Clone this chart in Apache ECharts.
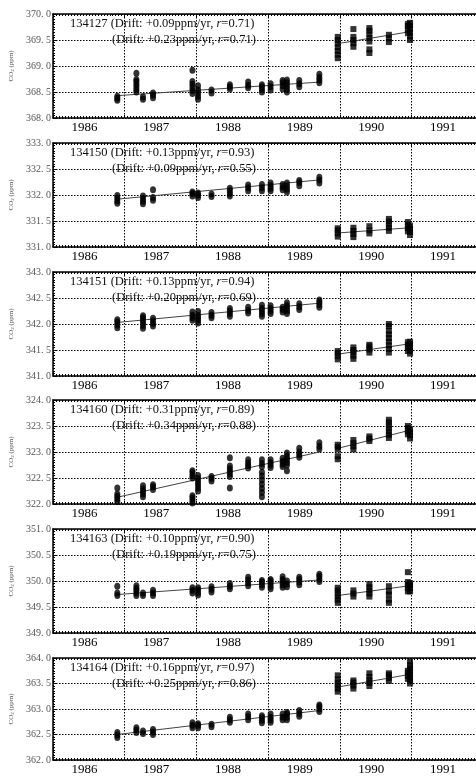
<!DOCTYPE html>
<html><head><meta charset="utf-8">
<script src="https://cdn.jsdelivr.net/npm/echarts@6/dist/echarts.min.js"></script>
<style>html,body{margin:0;padding:0;background:#fff}#c{width:476px;height:776px}</style>
</head><body><div id="c"></div><script>
const stations = ['134127', '134150', '134151', '134160', '134163', '134164'];
const driftA = ['+0.09', '+0.13', '+0.13', '+0.31', '+0.10', '+0.16'];
const rA = ['0.71', '0.93', '0.94', '0.89', '0.90', '0.97'];
const driftB = ['+0.23', '+0.09', '+0.20', '+0.34', '+0.19', '+0.25'];
const rB = ['0.71', '0.55', '0.69', '0.88', '0.75', '0.86'];
const yMins = [368.0, 331.0, 341.0, 322.0, 349.0, 362.0];
const yearLabels = [1986, 1987, 1988, 1989, 1990, 1991];

const circleDates = [1986.457, 1986.723, 1986.815, 1986.955, 1987.505, 1987.583, 1987.771, 1988.027,
  1988.282, 1988.474, 1988.595, 1988.763, 1988.823, 1988.995, 1989.275];
const squareDates = [1989.532, 1989.75, 1989.973, 1990.245, 1990.51, 1990.54];

// values per date (circles: before the break, squares: after)
const circles134127 = [
  [368.34, 368.38, 368.42], [368.5, 368.55, 368.6, 368.65, 368.7, 368.74, 368.86], [368.36, 368.41],
  [368.39, 368.44, 368.48], [368.47, 368.53, 368.59, 368.65, 368.7, 368.92], [368.36, 368.42, 368.48, 368.54, 368.62],
  [368.48, 368.54], [368.56, 368.6, 368.64], [368.58, 368.63, 368.69], [368.5, 368.55, 368.6, 368.64],
  [368.54, 368.6, 368.66], [368.56, 368.62, 368.68, 368.72], [368.5, 368.56, 368.62, 368.68, 368.73],
  [368.6, 368.66, 368.72], [368.68, 368.73, 368.78, 368.84]];
const squares134127 = [
  [369.15, 369.22, 369.29, 369.36, 369.43, 369.5, 369.56], [369.37, 369.44, 369.5, 369.56, 369.71],
  [369.25, 369.32, 369.47, 369.54, 369.61, 369.68, 369.73], [369.46, 369.53, 369.6],
  [369.63, 369.7, 369.77, 369.81], [369.5, 369.57, 369.64, 369.71, 369.78, 369.83]];

const circles134150 = [
  [331.84, 331.89, 331.94, 331.99], [], [331.83, 331.88, 331.93, 331.98], [331.9, 331.95, 332.1],
  [331.98, 332.03, 332.06], [331.95, 332.0, 332.04], [331.97, 332.02], [331.98, 332.03, 332.08, 332.13],
  [332.08, 332.14, 332.19], [332.08, 332.14, 332.2], [332.08, 332.13, 332.18, 332.23], [332.1, 332.15, 332.2],
  [332.06, 332.11, 332.17, 332.23], [332.18, 332.24, 332.28], [332.23, 332.29, 332.34]];
const squares134150 = [
  [331.2, 331.26, 331.32, 331.36], [331.19, 331.25, 331.31, 331.37], [331.26, 331.32, 331.4],
  [331.31, 331.37, 331.43, 331.49, 331.54], [331.3, 331.36, 331.42, 331.48], [331.23, 331.29, 331.35, 331.41]];

const circles134151 = [
  [341.93, 341.98, 342.04, 342.08], [], [341.92, 341.97, 342.02, 342.07, 342.12, 342.16],
  [341.96, 342.01, 342.06, 342.11], [342.07, 342.12, 342.17, 342.23], [342.02, 342.07, 342.12, 342.17, 342.24],
  [342.12, 342.17, 342.22], [342.15, 342.2, 342.25, 342.3], [342.21, 342.26, 342.32],
  [342.15, 342.2, 342.25, 342.3, 342.36], [342.2, 342.25, 342.3, 342.35], [342.23, 342.28, 342.32],
  [342.2, 342.25, 342.3, 342.35, 342.41], [342.28, 342.33, 342.39], [342.32, 342.37, 342.42, 342.46]];
const squares134151 = [
  [341.32, 341.38, 341.44, 341.48], [341.33, 341.39, 341.45, 341.5, 341.55], [341.45, 341.51, 341.57, 341.6],
  [341.45, 341.52, 341.59, 341.66, 341.73, 341.8, 341.87, 341.96, 342.0], [341.48, 341.54, 341.6, 341.65],
  [341.43, 341.49, 341.55, 341.61, 341.66]];

const circles134160 = [
  [322.05, 322.1, 322.15, 322.19, 322.31], [], [322.14, 322.19, 322.24, 322.29, 322.35], [322.28, 322.33, 322.37],
  [322.02, 322.07, 322.12, 322.16, 322.5, 322.55, 322.6, 322.64], [322.25, 322.31, 322.37, 322.43, 322.49, 322.55],
  [322.44, 322.49, 322.53], [322.31, 322.53, 322.58, 322.63, 322.68, 322.73, 322.89], [322.69, 322.74, 322.79, 322.85],
  [322.14, 322.22, 322.3, 322.38, 322.46, 322.54, 322.61, 322.72, 322.78, 322.85], [322.7, 322.75, 322.8, 322.85],
  [322.72, 322.77, 322.82, 322.88], [322.64, 322.75, 322.8, 322.86, 322.92, 322.98], [322.9, 322.95, 323.0, 323.07],
  [323.06, 323.11, 323.18]];
const squares134160 = [
  [322.86, 322.92, 323.05, 323.1, 323.14], [323.05, 323.11, 323.17, 323.23], [323.21, 323.26, 323.3],
  [323.27, 323.33, 323.39, 323.45, 323.51, 323.57, 323.62], [323.34, 323.4, 323.46, 323.5], [323.26, 323.32, 323.38, 323.44]];

const circles134163 = [
  [349.72, 349.77, 349.9], [349.72, 349.77, 349.82, 349.86, 349.91], [349.72, 349.77], [349.72, 349.77, 349.82],
  [349.77, 349.82, 349.87], [349.73, 349.78, 349.83, 349.87], [349.79, 349.84, 349.89], [349.85, 349.9, 349.95],
  [349.91, 349.96, 350.02, 350.07], [349.88, 349.93, 349.98, 350.01], [349.85, 349.9, 349.95, 350.0, 350.03],
  [349.88, 349.93, 349.98, 350.03, 350.08], [349.89, 349.94, 350.0], [349.93, 349.98, 350.03, 350.07],
  [349.99, 350.04, 350.09, 350.13]];
const squares134163 = [
  [349.58, 349.64, 349.7, 349.76, 349.82, 349.87], [349.7, 349.76, 349.82], [349.7, 349.76, 349.82, 349.88, 349.94],
  [349.58, 349.64, 349.74, 349.8, 349.9], [349.8, 349.86, 349.92, 349.98, 350.17], [349.8, 349.86, 349.92, 349.96]];

const circles134164 = [
  [362.44, 362.49, 362.54], [362.54, 362.59, 362.63], [362.52, 362.57], [362.5, 362.55, 362.6],
  [362.63, 362.68, 362.73], [362.63, 362.68, 362.71], [362.65, 362.7], [362.74, 362.79, 362.84],
  [362.79, 362.85, 362.9], [362.73, 362.78, 362.83, 362.87], [362.74, 362.79, 362.84, 362.9],
  [362.79, 362.84, 362.9], [362.79, 362.84, 362.9, 362.93], [362.86, 362.91, 362.97], [362.95, 363.0, 363.05, 363.08]];
const squares134164 = [
  [363.34, 363.4, 363.46, 363.52, 363.58, 363.66], [363.4, 363.46, 363.52, 363.56], [363.45, 363.51, 363.57, 363.63, 363.7],
  [363.55, 363.61, 363.67, 363.7], [363.59, 363.65, 363.71, 363.75], [363.5, 363.56, 363.62, 363.68, 363.74, 363.8, 363.86, 363.93]];

// regression line end values [start, end] for circle and square periods
const fitCircleX = [1986.457, 1989.275];
const fitSquareX = [1989.532, 1990.54];
const fitCircleY = [[368.43, 368.69], [331.92, 332.29], [342.03, 342.4], [322.13, 323.0], [349.74, 350.02], [362.5, 362.97]];
const fitSquareY = [[369.43, 369.66], [331.27, 331.37], [341.42, 341.62], [323.07, 323.42], [349.72, 349.91], [363.43, 363.68]];

const circleSets = [circles134127, circles134150, circles134151, circles134160, circles134163, circles134164];
const squareSets = [squares134127, squares134150, squares134151, squares134160, squares134163, squares134164];

const tops = [14, 143, 272, 400, 529, 658];
const panelH = 104;
const xMin = 1985.56, xMax = 1991.46;
const serif = 'Liberation Serif';

function flatten(dates, sets) {
  const out = [];
  sets.forEach((vals, i) => vals.forEach(v => out.push([dates[i], v])));
  return out;
}

const grid = [], xAxis = [], yAxis = [], series = [], graphic = [];
tops.forEach((t, i) => {
  grid.push({left: 53, right: 0, top: t, height: panelH});
  xAxis.push({
    type: 'value', gridIndex: i, min: xMin, max: xMax, interval: 1, position: 'bottom',
    axisLine: {show: true, lineStyle: {color: '#000', width: 1.5}},
    axisTick: {show: true, inside: true, length: 3, lineStyle: {color: '#000'}},
    minorTick: {show: true, splitNumber: 24, length: 2, lineStyle: {color: '#000'}},
    splitLine: {show: true, lineStyle: {color: '#000', type: [1.5, 1.5], width: 1}},
    axisLabel: {customValues: yearLabels, formatter: v => String(Math.round(v)), color: '#000',
      fontFamily: serif, fontSize: 13, margin: 3}
  });
  xAxis.push({
    type: 'value', gridIndex: i, min: xMin, max: xMax, interval: 1, position: 'top',
    axisLine: {show: true, lineStyle: {color: '#000', width: 1.5}},
    axisTick: {show: true, inside: true, length: 3, lineStyle: {color: '#000'}},
    minorTick: {show: true, splitNumber: 24, length: 2, lineStyle: {color: '#000'}},
    splitLine: {show: false}, axisLabel: {show: false}
  });
  yAxis.push({
    type: 'value', gridIndex: i, min: yMins[i], max: yMins[i] + 2, interval: 0.5,
    name: 'CO{s|2} (ppm)', nameLocation: 'middle', nameGap: 36, nameRotate: 90,
    nameTextStyle: {fontFamily: serif, fontSize: 7, color: '#555', rich: {s: {fontSize: 5, color: '#555', verticalAlign: 'bottom'}}},
    axisLine: {show: true, lineStyle: {color: '#000', width: 1.5}},
    axisTick: {show: true, inside: true, length: 3, lineStyle: {color: '#000'}},
    minorTick: {show: true, splitNumber: 10, length: 2, lineStyle: {color: '#000'}},
    splitLine: {show: true, lineStyle: {color: '#000', type: [1.5, 1.5], width: 1}},
    axisLabel: {formatter: v => v.toFixed(1).replace('.', '. '), color: '#555', fontFamily: serif, fontSize: 10, margin: 2}
  });
  series.push({
    type: 'scatter', xAxisIndex: 2 * i, yAxisIndex: i, symbol: 'circle', symbolSize: [6, 7],
    itemStyle: {color: '#000'}, data: flatten(circleDates, circleSets[i]), z: 3
  });
  series.push({
    type: 'scatter', xAxisIndex: 2 * i, yAxisIndex: i, symbol: 'rect', symbolSize: [6, 6],
    itemStyle: {color: '#000'}, data: flatten(squareDates, squareSets[i]), z: 3
  });
  series.push({
    type: 'line', xAxisIndex: 2 * i, yAxisIndex: i, showSymbol: false, silent: true,
    lineStyle: {color: '#444', width: 1}, z: 2,
    data: [[fitCircleX[0], fitCircleY[i][0]], [fitCircleX[1], fitCircleY[i][1]]]
  });
  series.push({
    type: 'line', xAxisIndex: 2 * i, yAxisIndex: i, showSymbol: false, silent: true,
    lineStyle: {color: '#444', width: 1}, z: 2,
    data: [[fitSquareX[0], fitSquareY[i][0]], [fitSquareX[1], fitSquareY[i][1]]]
  });
  graphic.push({
    type: 'text', left: 70, top: t + 3, z: 10,
    style: {text: stations[i] + ' (Drift: ' + driftA[i] + 'ppm/yr, {it|r}=' + rA[i] + ')',
      font: '12.5px ' + serif, fill: '#111', rich: {it: {fontStyle: 'italic', fontFamily: serif, fontSize: 12.5}}}
  });
  graphic.push({
    type: 'text', left: 112, top: t + 19, z: 10,
    style: {text: '(Drift: ' + driftB[i] + 'ppm/yr, {it|r}=' + rB[i] + ')',
      font: '12.5px ' + serif, fill: '#111', rich: {it: {fontStyle: 'italic', fontFamily: serif, fontSize: 12.5}}}
  });
});

const chart = echarts.init(document.getElementById('c'), null, {renderer: 'canvas'});
chart.setOption({animation: false, backgroundColor: '#fff', grid, xAxis, yAxis, series, graphic});
</script></body></html>
